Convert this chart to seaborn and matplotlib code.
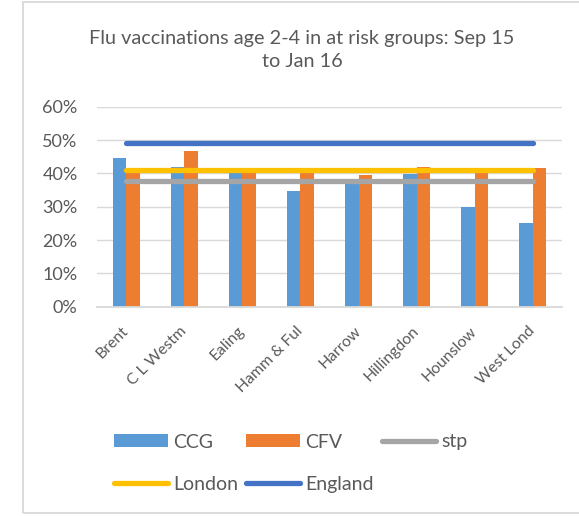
import matplotlib
matplotlib.use("Agg")
import matplotlib.pyplot as plt
from matplotlib.patches import Rectangle, Patch
from matplotlib.lines import Line2D
from matplotlib.ticker import PercentFormatter
from matplotlib.transforms import offset_copy
import seaborn as sns
import pandas as pd

# Flu vaccination uptake, age 2-4 in at-risk groups, by CCG
areas = ["Brent", "C L Westm", "Ealing", "Hamm & Ful", "Harrow",
         "Hillingdon", "Hounslow", "West Lond"]
ccg = [44.5, 41.8, 40.5, 34.8, 38.0, 39.7, 29.8, 25.1]
cfv = [41.0, 46.7, 40.5, 40.5, 39.6, 42.0, 40.5, 41.6]
stp = [37.6, 37.6, 37.6, 37.6, 37.6, 37.6, 37.6, 37.6]
london = [41.0, 41.0, 41.0, 41.0, 41.0, 41.0, 41.0, 41.0]
england = [49.2, 49.2, 49.2, 49.2, 49.2, 49.2, 49.2, 49.2]
y_ticks = [0, 10, 20, 30, 40, 50, 60]

title = "Flu vaccinations age 2-4 in at risk groups: Sep 15\nto Jan 16"

C_CCG = "#5B9BD5"
C_CFV = "#ED7D31"
C_STP = "#A5A5A5"
C_LON = "#FFC000"
C_ENG = "#4472C4"
GREY_TXT = "#595959"
GRID = "#D9D9D9"

sns.set_theme(style="white")
plt.rcParams["font.family"] = ["Lato", "DejaVu Sans"]

bars = pd.DataFrame({
    "area": areas * 2,
    "value": ccg + cfv,
    "series": ["CCG"] * len(areas) + ["CFV"] * len(areas),
})

W, H = 579, 516
fig = plt.figure(figsize=(W / 100, H / 100), dpi=100)
fig.patch.set_facecolor("white")

# outer chart border (right edge runs past the canvas)
fig.patches.append(Rectangle((23 / W, 3 / H), 700 / W, 511 / H,
                             transform=fig.transFigure, fill=False,
                             edgecolor=GRID, linewidth=1.3))

ax = fig.add_axes([97 / W, (H - 306.7) / H, 465 / W, 200 / H])
sns.barplot(data=bars, x="area", y="value", hue="series",
            palette={"CCG": C_CCG, "CFV": C_CFV}, width=0.465, gap=0,
            saturation=1, ax=ax, legend=False, linewidth=0)

# benchmark lines drawn across the categories
for vals, col in [(stp, C_STP), (london, C_LON), (england, C_ENG)]:
    ax.plot(range(len(areas)), vals, color=col, linewidth=3.8,
            solid_capstyle="round", zorder=3)

ax.set_xlim(-0.5, len(areas) - 0.5)
ax.set_ylim(0, 60)
ax.set_yticks(y_ticks)
ax.yaxis.set_major_formatter(PercentFormatter(decimals=0))
ax.grid(axis="y", color=GRID, linewidth=1)
ax.set_axisbelow(True)
for s in ["top", "right", "left"]:
    ax.spines[s].set_visible(False)
ax.spines["bottom"].set_color(GRID)
ax.spines["bottom"].set_linewidth(1.3)
ax.set_xlabel("")
ax.set_ylabel("")
ax.tick_params(axis="y", length=0, colors=GREY_TXT, labelsize=13, pad=14)
ax.tick_params(axis="x", length=0, colors=GREY_TXT, labelsize=11.3, pad=12.5)
for lbl in ax.get_xticklabels():
    lbl.set_rotation(45)
    lbl.set_ha("right")
    lbl.set_rotation_mode("anchor")
    lbl.set_transform(offset_copy(lbl.get_transform(), fig=fig,
                                  x=-5, y=0, units="dots"))

fig.text(302 / W, 1 - 50 / H, title, ha="center", va="center",
         fontsize=14.3, color=GREY_TXT, linespacing=1.4)

handles = [
    Patch(facecolor=C_CCG, edgecolor="none"),
    Line2D([], [], color=C_LON, linewidth=3.8, solid_capstyle="round"),
    Patch(facecolor=C_CFV, edgecolor="none"),
    Line2D([], [], color=C_ENG, linewidth=3.8, solid_capstyle="round"),
    Line2D([], [], color=C_STP, linewidth=3.8, solid_capstyle="round"),
]
labels = ["CCG", "London", "CFV", "England", "stp"]
fig.legend(handles, labels, ncol=3, loc="upper left",
           bbox_to_anchor=(96 / W, 1 - 416 / H), frameon=False,
           fontsize=14, handlelength=2.8, handleheight=0.6,
           handletextpad=0.25, columnspacing=0.42, labelspacing=1.3,
           labelcolor=GREY_TXT)

fig.savefig("out.png", dpi=100, facecolor="white")
